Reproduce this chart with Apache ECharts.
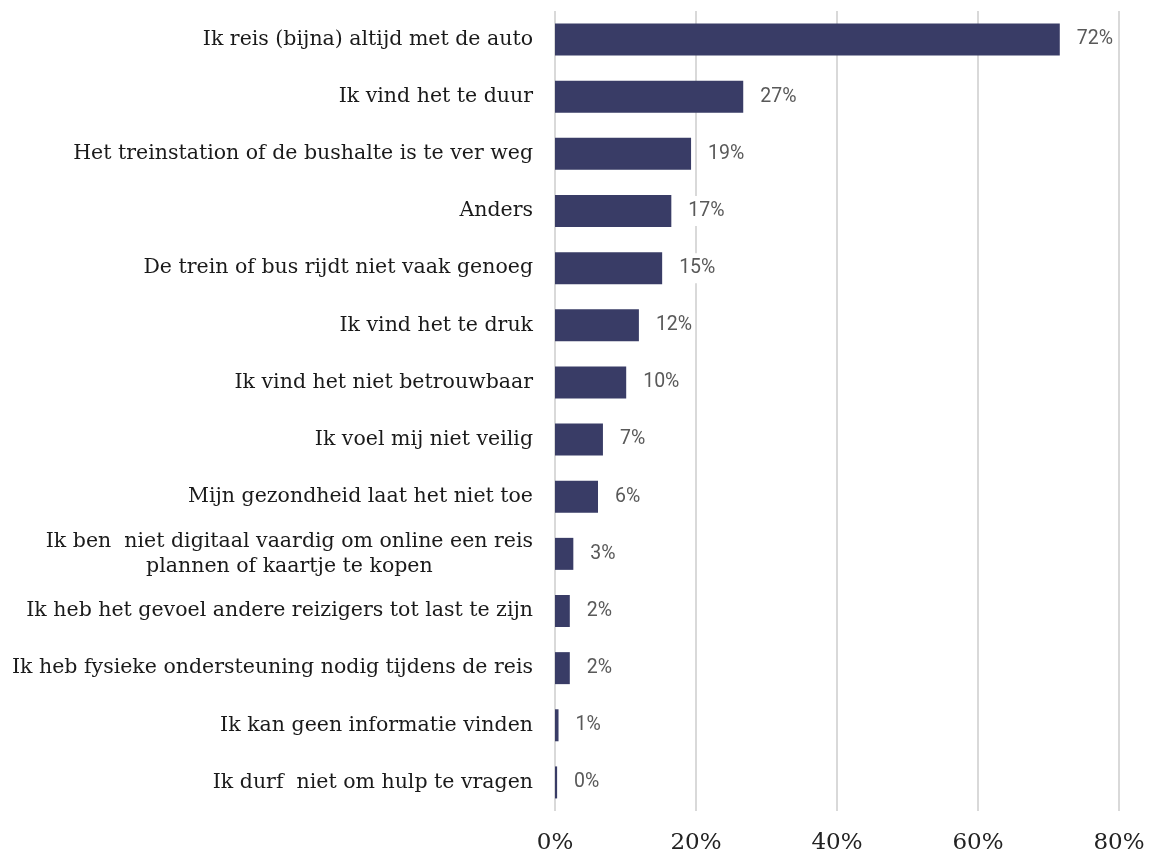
<!DOCTYPE html>
<html>
<head>
<meta charset="utf-8">
<script src="https://cdn.jsdelivr.net/npm/echarts@6/dist/echarts.min.js"></script>
<style>
  html, body { margin: 0; padding: 0; background: #fff; }
  #chart { width: 1153px; height: 855px; }
</style>
</head>
<body>
<div id="chart"></div>
<script>
// Redenen om niet met trein of bus te reizen (aandeel respondenten, %)
const categories = [
  'Ik reis (bijna) altijd met de auto',
  'Ik vind het te duur',
  'Het treinstation of de bushalte is te ver weg',
  'Anders',
  'De trein of bus rijdt niet vaak genoeg',
  'Ik vind het te druk',
  'Ik vind het niet betrouwbaar',
  'Ik voel mij niet veilig',
  'Mijn gezondheid laat het niet toe',
  'Ik ben  niet digitaal vaardig om online een reis\nplannen of kaartje te kopen',
  'Ik heb het gevoel andere reizigers tot last te zijn',
  'Ik heb fysieke ondersteuning nodig tijdens de reis',
  'Ik kan geen informatie vinden',
  'Ik durf  niet om hulp te vragen'
];
const values = [71.6, 26.7, 19.3, 16.5, 15.2, 11.9, 10.1, 6.8, 6.1, 2.6, 2.1, 2.1, 0.5, 0.3];
const axisTicks = [0, 20, 40, 60, 80];

const chart = echarts.init(document.getElementById('chart'));
chart.setOption({
  animation: false,
  grid: { left: 555, right: 34, top: 11, bottom: 43 },
  xAxis: {
    type: 'value',
    min: axisTicks[0],
    max: axisTicks[axisTicks.length - 1],
    interval: axisTicks[1] - axisTicks[0],
    axisLine: { show: false },
    axisTick: { show: false },
    splitLine: { show: true, lineStyle: { color: '#d9d9d9', width: 2 } },
    axisLabel: {
      formatter: '{value}%',
      fontFamily: 'DejaVu Serif',
      fontSize: 23,
      color: '#222',
      margin: 21
    }
  },
  yAxis: {
    type: 'category',
    inverse: true,
    data: categories,
    axisLine: { show: false },
    axisTick: { show: false },
    axisLabel: {
      margin: 22,
      formatter: (v) => v.split('\n').map(l => '{c|' + l + '}').join('\n'),
      rich: {
        c: {
          fontFamily: 'DejaVu Serif',
          fontSize: 20.5,
          color: '#1a1a1a',
          lineHeight: 25,
          align: 'center'
        }
      }
    }
  },
  series: [{
    type: 'bar',
    data: values,
    barWidth: 32,
    itemStyle: { color: '#393c66' },
    label: {
      show: true,
      position: 'right',
      distance: 14,
      formatter: (p) => Math.round(p.value) + '%',
      fontFamily: 'Roboto',
      fontSize: 19.5,
      color: '#595959',
      backgroundColor: '#fff',
      padding: [7, 3, 3, 3]
    }
  }]
});
</script>
</body>
</html>
